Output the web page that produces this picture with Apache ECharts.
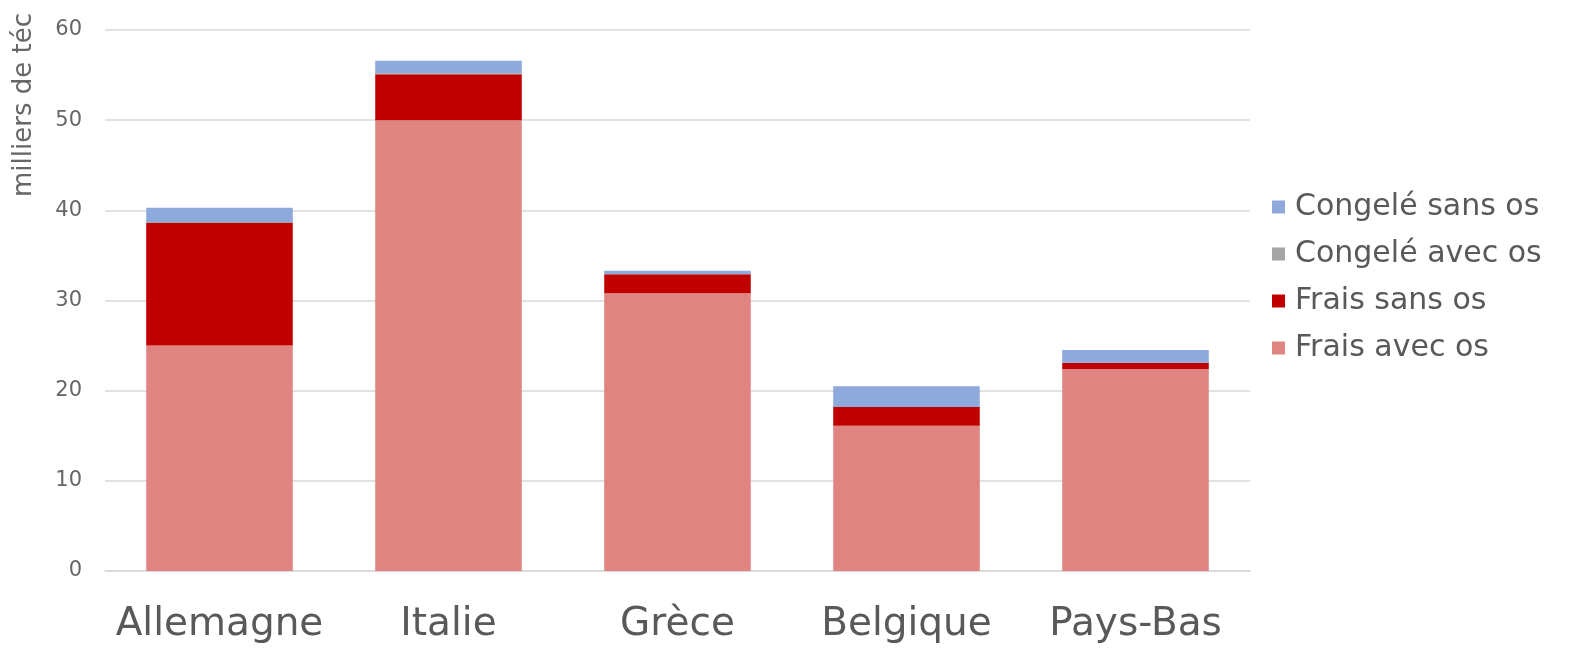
<!DOCTYPE html>
<html>
<head>
<meta charset="utf-8">
<script src="https://cdn.jsdelivr.net/npm/echarts@6/dist/echarts.min.js"></script>
<style>
html,body{margin:0;padding:0;background:#fff;}
#chart{width:1596px;height:657px;}
</style>
</head>
<body>
<div id="chart"></div>
<script>
const categories = ['Allemagne', 'Italie', 'Grèce', 'Belgique', 'Pays-Bas'];
const fraisAvecOs = [25.0, 50.0, 30.8, 16.1, 22.4];
const fraisSansOs = [13.6, 5.1, 2.1, 2.1, 0.7];
const congeleAvecOs = [0.1, 0.1, 0.0, 0.0, 0.0];
const congeleSansOs = [1.6, 1.4, 0.4, 2.3, 1.4];
const yTicks = { min: 0, max: 60, interval: 10 };
const yAxisName = 'milliers de téc';

const FONT = 'DejaVu Sans';
const chart = echarts.init(document.getElementById('chart'));
const barW = '64%';
function s(name, data, color) {
  return { name, type: 'bar', stack: 'total', data, barWidth: barW,
    itemStyle: { color }, emphasis: { disabled: true } };
}
chart.setOption({
  animation: false,
  textStyle: { fontFamily: FONT },
  grid: { left: 105, right: 346, top: 30, bottom: 86 },
  legend: {
    orient: 'vertical', left: 1267, top: 187,
    data: ['Congelé sans os', 'Congelé avec os', 'Frais sans os', 'Frais avec os'],
    itemWidth: 13, itemHeight: 13, itemGap: 17, icon: 'rect',
    textStyle: { fontSize: 30, color: '#595959', fontFamily: FONT, padding: [0, 0, 0, 5] }
  },
  xAxis: {
    type: 'category', data: categories,
    axisTick: { show: false },
    axisLine: { lineStyle: { color: '#D9D9D9', width: 1.5 } },
    axisLabel: { interval: 0, fontSize: 39, color: '#595959', margin: 34 }
  },
  yAxis: {
    type: 'value', min: yTicks.min, max: yTicks.max, interval: yTicks.interval,
    axisLine: { show: false }, axisTick: { show: false },
    splitLine: { lineStyle: { color: '#D9D9D9', width: 1.5 } },
    axisLabel: { fontSize: 21, color: '#666666', margin: 23 }
  },
  graphic: [{
    type: 'text', x: 11, y: 197, rotation: Math.PI / 2,
    style: { text: yAxisName, fontSize: 26, fill: '#666666', fontFamily: FONT,
      textAlign: 'left', textVerticalAlign: 'top' }
  }],
  series: [
    s('Frais avec os', fraisAvecOs, '#E08482'),
    s('Frais sans os', fraisSansOs, '#C00000'),
    s('Congelé avec os', congeleAvecOs, '#A5A5A5'),
    s('Congelé sans os', congeleSansOs, '#8EA9DB')
  ]
});
</script>
</body>
</html>
